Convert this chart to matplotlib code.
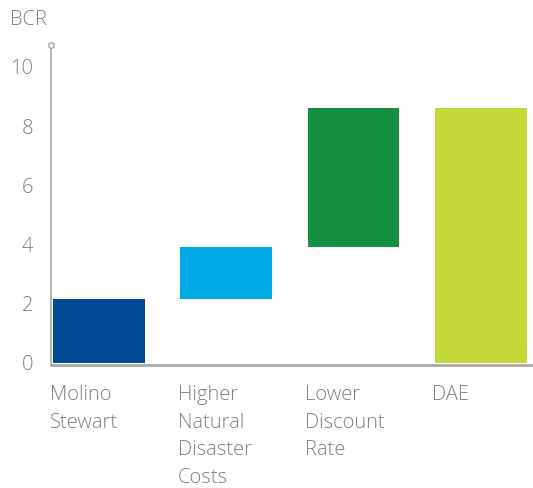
import matplotlib.pyplot as plt

# data
categories = ["Molino\nStewart", "Higher\nNatural\nDisaster\nCosts", "Lower\nDiscount\nRate", "DAE"]
bottoms = [0.0, 2.15, 3.9, 0.0]
tops = [2.15, 3.9, 8.6, 8.6]
colors = ["#004B93", "#00AAE6", "#149140", "#C3D93A"]

plt.rcParams["font.family"] = ["Open Sans", "DejaVu Sans"]
plt.rcParams["font.weight"] = "light"
grey = "#808080"
axis_grey = "#a8a8a8"

fig = plt.figure(figsize=(5.33, 4.88), dpi=100)
ax = fig.add_axes([0.0957, 0.252, 0.9043, 0.656])

x = list(range(len(categories)))
heights = [t - b for t, b in zip(tops, bottoms)]
width = 0.72
ax.bar(x, heights, bottom=bottoms, width=width, color=colors, zorder=2)

ax.set_xlim(-0.376, 3.41)
ax.set_ylim(-0.07, 10.74)
ax.set_yticks([0, 2, 4, 6, 8, 10])
ax.tick_params(axis="y", length=0, pad=13, labelsize=14.5, labelcolor=grey)
ax.set_xticks([])

for s in ["top", "right"]:
    ax.spines[s].set_visible(False)
ax.spines["left"].set_color(axis_grey)
ax.spines["bottom"].set_color(axis_grey)
ax.spines["left"].set_linewidth(1.2)
ax.spines["bottom"].set_linewidth(2)

# small circle at the top of the y axis
ax.plot([-0.376], [10.74], marker="o", markersize=4, markerfacecolor="white",
        markeredgecolor=axis_grey, markeredgewidth=1, clip_on=False, zorder=5)

# category labels, left aligned under each bar
for xi, lab in zip(x, categories):
    ax.annotate(lab, xy=(xi - width / 2, 0), xycoords=("data", "axes fraction"),
                xytext=(-2, -14.5), textcoords="offset points",
                ha="left", va="top", fontsize=14.5, color=grey, linespacing=1.5)

fig.text(10 / 533, 1 - 20 / 488, "BCR", ha="left", va="center", fontsize=14.5, color=grey)

fig.savefig("out.png", dpi=100)
